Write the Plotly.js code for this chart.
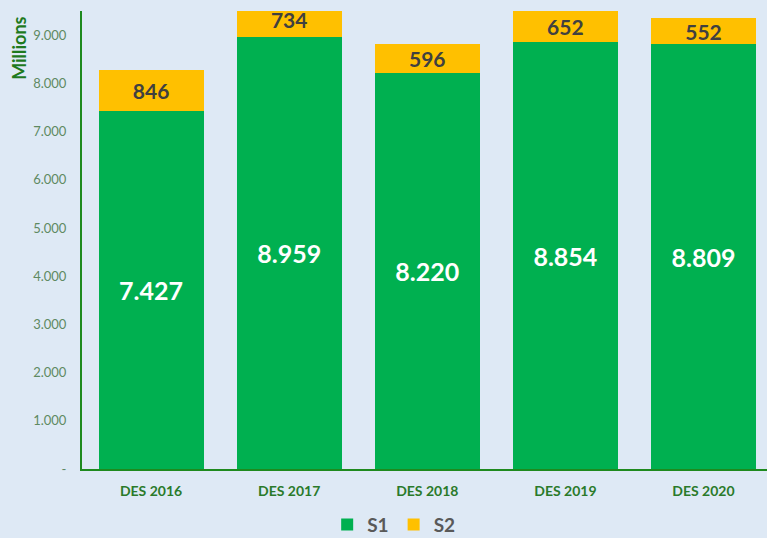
<!DOCTYPE html>
<html>
<head>
<meta charset="utf-8">
<script src="https://cdn.plot.ly/plotly-3.0.1.min.js"></script>
<style>html,body{margin:0;padding:0;background:#dee9f5;}#chart{width:767px;height:538px;}</style>
</head>
<body>
<div id="chart"></div>
<script>
const categories = ["DES 2016", "DES 2017", "DES 2018", "DES 2019", "DES 2020"];
const s1Values = [7427, 8959, 8220, 8854, 8809];
const s2Values = [846, 734, 596, 652, 552];
const yTickVals = [0, 1000, 2000, 3000, 4000, 5000, 6000, 7000, 8000, 9000];
const yTickText = ["-", "1.000", "2.000", "3.000", "4.000", "5.000", "6.000", "7.000", "8.000", "9.000"];

function fmt(v){ return v.toString().replace(/\B(?=(\d{3})+(?!\d))/g, "."); }

const font = "Lato, 'Open Sans', sans-serif";
const traces = [
  {type:"bar", name:"S1", x:categories, y:s1Values, marker:{color:"#00b050"},
   text:s1Values.map(fmt), textposition:"inside", insidetextanchor:"middle", constraintext:"none",
   textfont:{family:font, size:25, color:"#ffffff", weight:"bold"}, hoverinfo:"none"},
  {type:"bar", name:"S2", x:categories, y:s2Values, marker:{color:"#ffc000"},
   text:s2Values.map(fmt), textposition:"inside", insidetextanchor:"middle", constraintext:"none",
   textfont:{family:font, size:21, color:"#404040", weight:"bold"}, hoverinfo:"none"}
];
const layout = {
  width:767, height:538,
  paper_bgcolor:"#dee9f5", plot_bgcolor:"#dee9f5",
  margin:{l:82, r:0, t:11, b:69, autoexpand:false},
  barmode:"stack", bargap:0.24,
  font:{family:font},
  xaxis:{range:[-0.5, 4.46], showline:true, linecolor:"#1e8a1e", linewidth:2, ticks:"", ticklabelstandoff:8,
    tickfont:{family:font, size:14, color:"#2a7a2a", weight:"bold"}, showgrid:false, zeroline:false, fixedrange:true},
  yaxis:{range:[0, 9500], tickvals:yTickVals, ticktext:yTickText, showline:true, linecolor:"#1e8a1e", linewidth:2,
    ticks:"", showgrid:false, zeroline:false, tickfont:{family:font, size:13, color:"#5e8a62"}, ticklabelstandoff:11},
  showlegend:true,
  legend:{orientation:"h", x:0.455, xanchor:"center", yref:"container", y:0.025, yanchor:"middle",
    font:{family:font, size:19, color:"#595959", weight:"bold"}, itemwidth:30, traceorder:"normal"},
  annotations:[{text:"Millions", xref:"paper", yref:"paper", x:-0.093, y:0.918, xanchor:"center", yanchor:"middle",
    textangle:-90, showarrow:false, font:{family:font, size:18, color:"#1e7a1e", weight:"bold"}}]
};
Plotly.newPlot("chart", traces, layout, {displayModeBar:false, staticPlot:true});
</script>
</body>
</html>
